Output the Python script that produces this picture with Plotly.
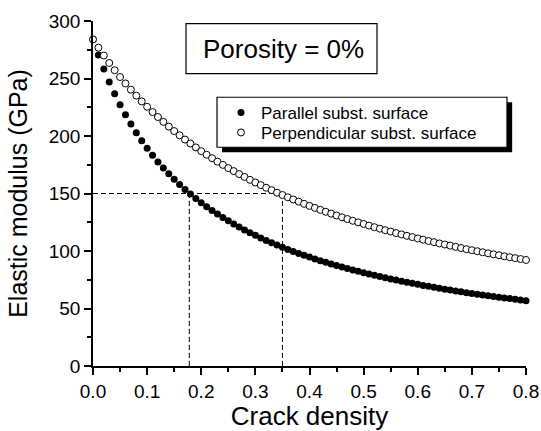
import plotly.graph_objects as go

# ---- data ----
crack_density = [round(i * 0.01, 2) for i in range(81)]

parallel = [284.0, 270.5, 258.2, 247.0, 236.7, 227.2, 218.5, 210.4, 202.9, 195.9,
            189.3, 183.2, 177.5, 172.1, 167.1, 162.3, 157.8, 153.5, 149.5, 145.6,
            142.0, 138.5, 135.2, 132.1, 129.1, 126.2, 123.5, 120.9, 118.3, 115.9,
            113.6, 111.4, 109.2, 107.2, 105.2, 103.3, 101.4, 99.6, 97.9, 96.3,
            94.7, 93.1, 91.6, 90.2, 88.8, 87.4, 86.1, 84.8, 83.5, 82.3,
            81.1, 80.0, 78.9, 77.8, 76.8, 75.7, 74.7, 73.8, 72.8, 71.9,
            71.0, 70.1, 69.3, 68.4, 67.6, 66.8, 66.0, 65.3, 64.5, 63.8,
            63.1, 62.4, 61.7, 61.1, 60.4, 59.8, 59.2, 58.6, 58.0, 57.4, 56.8]

perpendicular = [284.0, 276.8, 270.0, 263.5, 257.2, 251.3, 245.7, 240.3, 235.1, 230.1,
                 225.4, 220.8, 216.5, 212.3, 208.2, 204.3, 200.6, 196.9, 193.5, 190.1,
                 186.8, 183.7, 180.7, 177.7, 174.9, 172.1, 169.5, 166.9, 164.4, 161.9,
                 159.6, 157.3, 155.0, 152.9, 150.7, 148.7, 146.7, 144.8, 142.9, 141.0,
                 139.2, 137.5, 135.8, 134.1, 132.5, 130.9, 129.3, 127.8, 126.3, 124.9,
                 123.5, 122.1, 120.7, 119.4, 118.1, 116.9, 115.6, 114.4, 113.2, 112.1,
                 110.9, 109.8, 108.7, 107.7, 106.6, 105.6, 104.6, 103.6, 102.6, 101.6,
                 100.7, 99.8, 98.9, 98.0, 97.1, 96.3, 95.4, 94.6, 93.8, 93.0, 92.2]

series_names = ["Parallel subst. surface", "Perpendicular subst. surface"]

# reference lines: modulus level and the crack densities where each curve reaches it
ref_modulus = 150
ref_density = [0.178, 0.35]

x_ticks = [0.0, 0.1, 0.2, 0.3, 0.4, 0.5, 0.6, 0.7, 0.8]
y_ticks = [0, 50, 100, 150, 200, 250, 300]

FONT = "Liberation Sans, Arial, Helvetica, sans-serif"

fig = go.Figure()

fig.add_trace(go.Scatter(
    x=crack_density, y=parallel, mode="markers", name=series_names[0],
    marker=dict(symbol="circle", size=7, color="black", line=dict(width=0)),
    cliponaxis=False, legend="legend",
))
fig.add_trace(go.Scatter(
    x=crack_density, y=perpendicular, mode="markers", name=series_names[1],
    marker=dict(symbol="circle", size=7, color="white", line=dict(width=1, color="black")),
    cliponaxis=False, legend="legend2",
))

dash_line = dict(color="black", width=1, dash="5px,3px")
shapes = [
    dict(type="line", xref="x", yref="y", x0=0, x1=max(ref_density),
         y0=ref_modulus, y1=ref_modulus, line=dash_line, layer="below"),
]
for d in ref_density:
    shapes.append(dict(type="line", xref="x", yref="y", x0=d, x1=d,
                       y0=0, y1=ref_modulus, line=dash_line, layer="below"))

# legend frame with drop shadow
shapes.append(dict(type="rect", xref="paper", yref="paper",
                   x0=0.298, x1=0.968, y0=0.6198, y1=0.7646,
                   fillcolor="black", line=dict(width=0), layer="above"))
shapes.append(dict(type="rect", xref="paper", yref="paper",
                   x0=0.2864, x1=0.9561, y0=0.634, y1=0.779,
                   fillcolor="white", line=dict(width=1.2, color="black"), layer="above"))
# Porosity box
shapes.append(dict(type="rect", xref="paper", yref="paper",
                   x0=0.2148, x1=0.6559, y0=0.8477, y1=0.9925,
                   fillcolor="white", line=dict(width=1.2, color="black"), layer="above"))

fig.update_layout(
    width=541, height=431,
    margin=dict(l=93, r=15, t=21, b=65, pad=0),
    paper_bgcolor="white", plot_bgcolor="white",
    font=dict(family=FONT, color="black", size=19),
    shapes=shapes,
    showlegend=True,
    legend=dict(x=0.2956, y=0.7336, xanchor="left", yanchor="middle",
                bgcolor="rgba(0,0,0,0)", borderwidth=0,
                font=dict(family=FONT, size=17, color="black")),
    legend2=dict(x=0.2956, y=0.6756, xanchor="left", yanchor="middle",
                 bgcolor="rgba(0,0,0,0)", borderwidth=0,
                 font=dict(family=FONT, size=17, color="black")),
    annotations=[dict(text="Porosity = 0%", xref="paper", yref="paper",
                      x=0.4409, y=0.920, xanchor="center", yanchor="middle",
                      showarrow=False, font=dict(family=FONT, size=26, color="black"))],
    xaxis=dict(
        range=[0, 0.8], tickvals=x_ticks, tickformat=".1f",
        showline=True, linecolor="black", linewidth=1.5,
        ticks="outside", ticklen=7, tickwidth=1.5, tickcolor="black",
        minor=dict(ticks="outside", ticklen=4, tickwidth=1.5, tickcolor="black", dtick=0.05),
        showgrid=False, zeroline=False, mirror=False,
        tickfont=dict(family=FONT, size=19, color="black"),
        title=dict(text="Crack density", font=dict(family=FONT, size=26, color="black"), standoff=6),
        automargin=False,
    ),
    yaxis=dict(
        range=[0, 300], tickvals=y_ticks,
        showline=True, linecolor="black", linewidth=1.5,
        ticks="outside", ticklen=7, tickwidth=1.5, tickcolor="black",
        minor=dict(ticks="outside", ticklen=4, tickwidth=1.5, tickcolor="black", dtick=25),
        showgrid=False, zeroline=False, mirror=False,
        tickfont=dict(family=FONT, size=19, color="black"),
        title=dict(text="Elastic modulus (GPa)", font=dict(family=FONT, size=25, color="black"), standoff=14),
        automargin=False,
    ),
)

fig.write_html("out.html",
               config={"displayModeBar": False},
               post_script="document.body.style.margin='0';document.body.style.overflow='hidden';")
